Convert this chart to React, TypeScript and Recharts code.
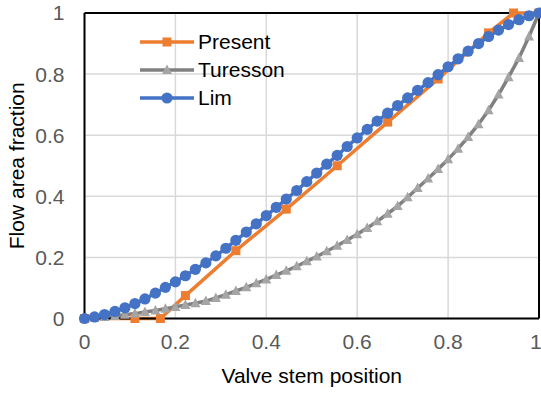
import React from 'react';
import {
  LineChart,
  Line,
  XAxis,
  YAxis,
  CartesianGrid,
  Legend,
  ReferenceLine,
} from 'recharts';

const FONT = '"Liberation Sans", Arial, sans-serif';

const xTicks = [0, 0.2, 0.4, 0.6, 0.8, 1];
const yTicks = [0, 0.2, 0.4, 0.6, 0.8, 1];

const presentX = [0, 0.111, 0.167, 0.222, 0.333, 0.444, 0.556, 0.667, 0.778, 0.889, 0.944, 1];
const presentY = [0, 0, 0, 0.075, 0.222, 0.358, 0.5, 0.643, 0.784, 0.935, 1, 1];

const stemX = [
  0, 0.022, 0.044, 0.067, 0.089, 0.111, 0.133, 0.156, 0.178, 0.2, 0.222, 0.244, 0.267, 0.289, 0.311, 0.333,
  0.356, 0.378, 0.4, 0.422, 0.444, 0.467, 0.489, 0.511, 0.533, 0.556, 0.578, 0.6, 0.622, 0.644, 0.667, 0.689,
  0.711, 0.733, 0.756, 0.778, 0.8, 0.822, 0.844, 0.867, 0.889, 0.911, 0.933, 0.956, 0.978, 1,
];

const turessonY = [
  0, 0.002, 0.005, 0.008, 0.012, 0.016, 0.021, 0.026, 0.032, 0.038, 0.044, 0.05, 0.057, 0.067, 0.078, 0.09,
  0.102, 0.115, 0.128, 0.142, 0.156, 0.171, 0.187, 0.203, 0.22, 0.238, 0.257, 0.276, 0.296, 0.318, 0.343, 0.368,
  0.397, 0.427, 0.458, 0.489, 0.521, 0.556, 0.594, 0.636, 0.682, 0.733, 0.79, 0.853, 0.923, 1,
];

const limY = [
  0, 0.005, 0.013, 0.023, 0.035, 0.049, 0.064, 0.083, 0.102, 0.12, 0.14, 0.161, 0.182, 0.205, 0.23, 0.256,
  0.283, 0.31, 0.337, 0.364, 0.391, 0.419, 0.448, 0.476, 0.505, 0.534, 0.563, 0.591, 0.619, 0.646, 0.672, 0.697,
  0.722, 0.747, 0.772, 0.798, 0.824, 0.85, 0.875, 0.9, 0.923, 0.944, 0.962, 0.978, 0.991, 1,
];

const presentData = presentX.map((x, i) => ({ x, y: presentY[i] }));
const turessonData = stemX.map((x, i) => ({ x, y: turessonY[i] }));
const limData = stemX.map((x, i) => ({ x, y: limY[i] }));

const ORANGE = '#ED7D31';
const GRAY_LINE = '#808080';
const GRAY_MARK = '#A5A5A5';
const BLUE = '#4472C4';

const SquareDot = (props: any) => {
  const { cx, cy, key } = props;
  if (cx == null || cy == null) return null;
  return <rect key={key} x={cx - 4.5} y={cy - 4.5} width={9} height={9} fill={ORANGE} />;
};

const TriangleDot = (props: any) => {
  const { cx, cy, key } = props;
  if (cx == null || cy == null) return null;
  return (
    <polygon
      key={key}
      points={`${cx},${cy - 5.5} ${cx + 5},${cy + 4} ${cx - 5},${cy + 4}`}
      fill={GRAY_MARK}
    />
  );
};

const CircleDot = (props: any) => {
  const { cx, cy, key } = props;
  if (cx == null || cy == null) return null;
  return <circle key={key} cx={cx} cy={cy} r={5.6} fill={BLUE} />;
};

const legendItems = [
  { name: 'Present', color: ORANGE, marker: 'square' },
  { name: 'Turesson', color: GRAY_LINE, marker: 'triangle' },
  { name: 'Lim', color: BLUE, marker: 'circle' },
];

const renderLegend = () => (
  <div style={{ fontFamily: FONT, fontSize: 21, color: '#000' }}>
    {legendItems.map((it) => (
      <div key={it.name} style={{ display: 'flex', alignItems: 'center', height: 28 }}>
        <svg width={60} height={28} style={{ display: 'block' }}>
          <line x1={2} y1={14} x2={56} y2={14} stroke={it.color} strokeWidth={3.5} />
          {it.marker === 'square' && <rect x={24.5} y={9.5} width={9} height={9} fill={ORANGE} />}
          {it.marker === 'triangle' && <polygon points="29,8.5 34,18 24,18" fill={GRAY_MARK} />}
          {it.marker === 'circle' && <circle cx={29} cy={14} r={5.6} fill={BLUE} />}
        </svg>
        <span style={{ lineHeight: '28px' }}>{it.name}</span>
      </div>
    ))}
  </div>
);

const fmt = (v: number) => String(Math.round(v * 10) / 10);

export default function App() {
  return (
    <div style={{ position: 'absolute', left: 0, top: 0, width: 541, height: 394, background: '#fff' }}>
      <LineChart width={541} height={394} margin={{ top: 13, right: 2, bottom: 0, left: 0 }}>
        <CartesianGrid stroke="#D9D9D9" strokeWidth={1.5} />
        <XAxis
          type="number"
          dataKey="x"
          domain={[0, 1]}
          ticks={xTicks}
          tickFormatter={fmt}
          height={75.5}
          tickLine={false}
          tickSize={0}
          tickMargin={16}
          axisLine={{ stroke: '#000', strokeWidth: 2 }}
          tick={{ fill: '#595959', fontSize: 21, fontFamily: FONT }}
          label={{
            content: (p: any) => {
              const vb = p.viewBox || {};
              return (
                <text
                  x={vb.x + vb.width / 2}
                  y={383}
                  textAnchor="middle"
                  fontSize={21}
                  fontFamily={FONT}
                  fill="#000"
                >
                  Valve stem position
                </text>
              );
            },
          }}
        />
        <YAxis
          type="number"
          dataKey="y"
          domain={[0, 1]}
          ticks={yTicks}
          tickFormatter={fmt}
          width={84.5}
          tickLine={false}
          tickSize={0}
          tickMargin={20}
          axisLine={{ stroke: '#000', strokeWidth: 2 }}
          tick={{ fill: '#595959', fontSize: 21, fontFamily: FONT }}
          label={{
            content: (p: any) => {
              const vb = p.viewBox || {};
              const cy = vb.y + vb.height / 2;
              return (
                <text
                  x={23.5}
                  y={cy}
                  transform={`rotate(-90, 23.5, ${cy})`}
                  textAnchor="middle"
                  fontSize={21}
                  fontFamily={FONT}
                  fill="#000"
                >
                  Flow area fraction
                </text>
              );
            },
          }}
        />
        <ReferenceLine y={1} stroke="#000" strokeWidth={2} />
        <ReferenceLine x={1} stroke="#000" strokeWidth={2} />
        <Legend
          layout="vertical"
          align="center"
          verticalAlign="middle"
          content={renderLegend}
          wrapperStyle={{ position: 'absolute', left: 138, top: 28, width: 160, height: 84 }}
        />
        <Line
          data={presentData}
          dataKey="y"
          name="Present"
          stroke={ORANGE}
          strokeWidth={3.5}
          dot={SquareDot}
          activeDot={false}
          isAnimationActive={false}
        />
        <Line
          data={turessonData}
          dataKey="y"
          name="Turesson"
          stroke={GRAY_LINE}
          strokeWidth={3.5}
          dot={TriangleDot}
          activeDot={false}
          isAnimationActive={false}
        />
        <Line
          data={limData}
          dataKey="y"
          name="Lim"
          stroke={BLUE}
          strokeWidth={3.5}
          dot={CircleDot}
          activeDot={false}
          isAnimationActive={false}
        />
      </LineChart>
    </div>
  );
}
